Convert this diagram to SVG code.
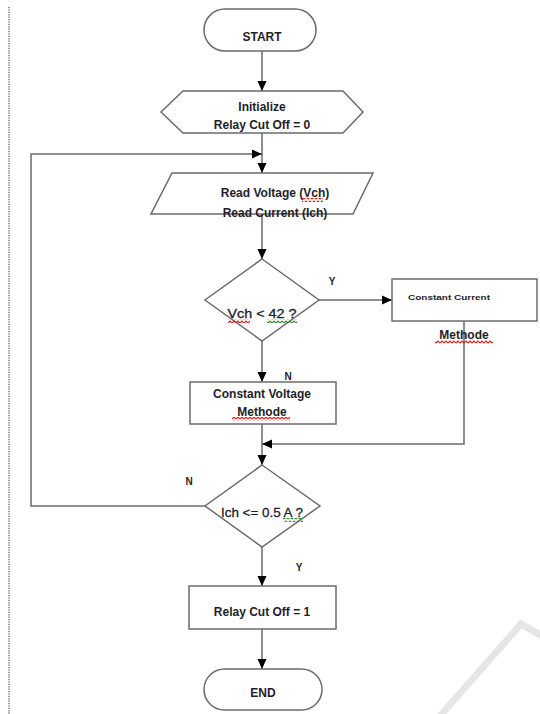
<svg xmlns="http://www.w3.org/2000/svg" width="540" height="714" viewBox="0 0 540 714">
<style>
.shape{fill:#fff;stroke:#6b6b6b;stroke-width:1.5}
.conn{fill:none;stroke:#6b6b6b;stroke-width:1.5}
.t{font-family:"Liberation Sans",Arial,sans-serif;font-size:12px;font-weight:bold;fill:#1e1e2a;text-anchor:middle}
.q{font-family:"Liberation Sans",Arial,sans-serif;font-size:13px;fill:#1e1e2a;stroke:#1e1e2a;stroke-width:0.3;text-anchor:middle}
.lbl{font-family:"Liberation Sans",Arial,sans-serif;font-size:10px;font-weight:bold;fill:#1e1e2a;text-anchor:middle}
.small{font-family:"Liberation Sans",Arial,sans-serif;font-size:7.5px;font-weight:bold;fill:#1e1e2a;text-anchor:middle}
</style>
<defs>
<marker id="ah" markerUnits="userSpaceOnUse" markerWidth="10" markerHeight="10" viewBox="0 0 10 10" refX="10" refY="5" orient="auto">
<path d="M0 0.5 L10 5 L0 9.5 Z" fill="#000"/>
</marker>
<pattern id="red" patternUnits="userSpaceOnUse" width="4" height="4">
<path d="M0 3 L2 1 L4 3" fill="none" stroke="#d42020" stroke-width="1.2"/>
</pattern>
<pattern id="green" patternUnits="userSpaceOnUse" width="4" height="4">
<path d="M0 3 L2 1 L4 3" fill="none" stroke="#2e8b2e" stroke-width="1.2"/>
</pattern>
</defs>
<rect width="540" height="714" fill="#fff"/>
<polyline points="440,716 521,624 542,636" fill="none" stroke="#e6e6e6" stroke-width="7"/>
<line x1="9" y1="7" x2="9" y2="714" stroke="#7a7a7a" stroke-width="1.6" stroke-dasharray="1.2 1.2"/>

<g id="connectors">
<line class="conn" x1="262" y1="51" x2="262" y2="91" marker-end="url(#ah)"/>
<line class="conn" x1="262" y1="133" x2="262" y2="173" marker-end="url(#ah)"/>
<polyline class="conn" points="205,506 31,506 31,154 262,154" marker-end="url(#ah)"/>
<line class="conn" x1="262" y1="214" x2="262" y2="259" marker-end="url(#ah)"/>
<line class="conn" x1="319" y1="300" x2="392" y2="300" marker-end="url(#ah)"/>
<line class="conn" x1="262" y1="341" x2="262" y2="382" marker-end="url(#ah)"/>
<line class="conn" x1="262" y1="424" x2="262" y2="465" marker-end="url(#ah)"/>
<polyline class="conn" points="464,321 464,444 262,444" marker-end="url(#ah)"/>
<line class="conn" x1="262" y1="547" x2="262" y2="586" marker-end="url(#ah)"/>
<line class="conn" x1="262" y1="629" x2="262" y2="669" marker-end="url(#ah)"/>
<text class="lbl" x="332" y="285">Y</text>
<text class="lbl" x="288" y="380">N</text>
<text class="lbl" x="189" y="485">N</text>
<text class="lbl" x="299" y="571">Y</text>
</g>

<g id="start">
<rect class="shape" x="204" y="9" width="112" height="42" rx="21"/>
<text class="t" x="262" y="41">START</text>
</g>

<g id="init">
<polygon class="shape" points="183,91 343,91 363,112 343,133 183,133 161,112"/>
<text class="t" x="262" y="111">Initialize</text>
<text class="t" x="262" y="129">Relay Cut Off = 0</text>
</g>

<g id="read">
<polygon class="shape" points="172,173 373,173 353,214 151,214"/>
<text class="t" x="275" y="197">Read Voltage (Vch)</text>
<text class="t" x="275" y="217">Read Current (Ich)</text>
<rect x="302" y="198" width="21" height="4" fill="url(#red)"/>
</g>

<g id="decision1">
<polygon class="shape" points="262,259 319,300 262,341 205,300"/>
<text class="q" x="262" y="318" textLength="69" lengthAdjust="spacingAndGlyphs">Vch &lt; 42 ?</text>
<rect x="228" y="319" width="22" height="4" fill="url(#red)"/>
<rect x="267" y="319" width="30" height="4" fill="url(#green)"/>
</g>

<g id="constant-current">
<rect class="shape" x="392" y="279" width="145" height="42"/>
<text class="small" x="449" y="300" textLength="82" lengthAdjust="spacingAndGlyphs">Constant Current</text>
<text class="t" x="464" y="339">Methode</text>
<rect x="435" y="340" width="58" height="4" fill="url(#red)"/>
</g>

<g id="constant-voltage">
<rect class="shape" x="190" y="382" width="146" height="42"/>
<text class="t" x="262" y="398">Constant Voltage</text>
<text class="t" x="262" y="416">Methode</text>
<rect x="232" y="417" width="58" height="4" fill="url(#red)"/>
</g>

<g id="decision2">
<polygon class="shape" points="262,465 320,506 262,547 205,506"/>
<text class="q" x="262" y="517" textLength="82" lengthAdjust="spacingAndGlyphs">Ich &lt;= 0.5 A ?</text>
<rect x="283" y="518" width="20" height="4" fill="url(#green)"/>
</g>

<g id="relay">
<rect class="shape" x="189" y="586" width="147" height="43"/>
<text class="t" x="262" y="616">Relay Cut Off = 1</text>
</g>

<g id="end">
<rect class="shape" x="204" y="669" width="118" height="41" rx="20.5"/>
<text class="t" x="263" y="697">END</text>
</g>
</svg>
